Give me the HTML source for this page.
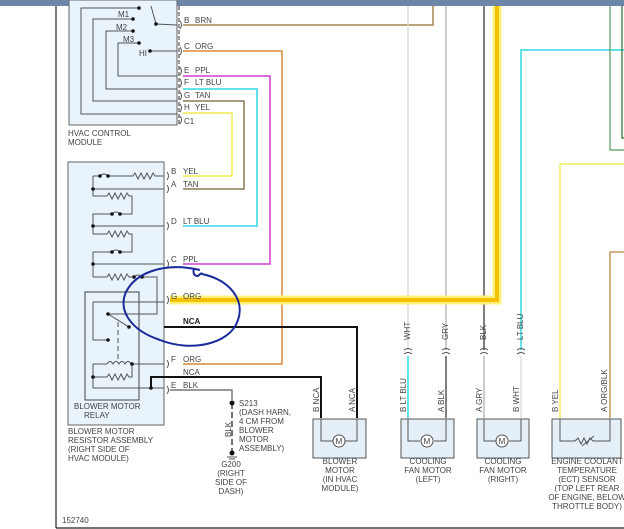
<!DOCTYPE html>
<html><head><meta charset="utf-8"><style>
html,body{margin:0;padding:0;background:#fff;}
svg{display:block;}
text{font-family:"Liberation Sans",sans-serif;font-size:8px;fill:#444;}
.w{fill:none;stroke-width:1.5;}
.k{fill:none;stroke:#555;stroke-width:1;}
</style></head><body>
<svg width="624" height="529" viewBox="0 0 624 529" xmlns="http://www.w3.org/2000/svg">
<rect x="0" y="0" width="624" height="6" fill="#6d86a8"/>
<line x1="56" y1="6" x2="56" y2="528" stroke="#222" stroke-width="1.2"/>
<line x1="56" y1="528" x2="624" y2="528" stroke="#222" stroke-width="1.2"/>

<!-- HVAC control module -->
<rect x="69" y="0" width="108" height="125" fill="#e9f3fb" stroke="#666"/>
<line x1="179" y1="6" x2="179" y2="125" stroke="#333" stroke-dasharray="4,2"/>
<g class="k">
<polyline points="138,8 81,8 81,114 177,114"/>
<polyline points="133,19 93,19 93,101 177,101"/>
<polyline points="133,31 106,31 106,89 177,89"/>
<polyline points="139,43 118,43 118,76 177,76"/>
<polyline points="150,51 177,51"/>
<polyline points="151,6 156,24 177,25"/>
</g>
<g fill="#111"><circle cx="139" cy="8" r="1.8"/><circle cx="133" cy="19" r="1.8"/><circle cx="133" cy="31" r="1.8"/><circle cx="139" cy="43" r="1.8"/><circle cx="150" cy="51" r="1.8"/><circle cx="156" cy="24" r="1.8"/></g>
<text x="118" y="17">M1</text><text x="116" y="30">M2</text><text x="123" y="42">M3</text><text x="139" y="56">HI</text>
<text x="68" y="136">HVAC CONTROL</text><text x="68" y="145">MODULE</text>

<g fill="none" stroke="#555" stroke-width="1">
<path d="M180,21 q3,4 0,8 M180,47 q3,4 0,8 M180,67 q3,4 0,8 M180,79 q3,4 0,8 M180,92 q3,4 0,8 M180,104 q3,4 0,8 M180,116 q3,4 0,8"/>
</g>
<text x="184" y="23">B</text><text x="195" y="23">BRN</text>
<text x="184" y="49">C</text><text x="195" y="49">ORG</text>
<text x="184" y="73">E</text><text x="195" y="73">PPL</text>
<text x="184" y="85">F</text><text x="195" y="85">LT BLU</text>
<text x="184" y="98">G</text><text x="195" y="98">TAN</text>
<text x="184" y="110">H</text><text x="195" y="110">YEL</text>
<text x="184" y="124">C1</text>

<!-- Wires from HVAC -->
<polyline class="w" stroke="#a48550" points="183,25 433,25 433,6"/>
<polyline class="w" stroke="#d98b3a" points="183,51 282,51 282,364 183,364"/>
<polyline class="w" stroke="#d040c8" points="183,76 270,76 270,264 183,264"/>
<polyline class="w" stroke="#30d8e0" points="183,89 257,89 257,226 183,226"/>
<polyline class="w" stroke="#8a7a58" points="183,101 244,101 244,189 183,189"/>
<polyline class="w" stroke="#f0ec50" points="183,113 232,113 232,176 183,176"/>

<!-- right side wires -->
<line x1="408" y1="6" x2="408" y2="350" stroke="#ddd" stroke-width="1.5"/>
<line x1="446" y1="6" x2="446" y2="350" stroke="#bbb" stroke-width="1.5"/>
<line x1="484" y1="6" x2="484" y2="350" stroke="#555" stroke-width="1.5"/>
<polyline class="w" stroke="#30d8e0" points="624,50 521,50 521,350"/>
<polyline fill="none" stroke="#5a9a5a" stroke-width="1.2" points="610,6 610,150 624,150"/>
<polyline fill="none" stroke="#2a6a2a" stroke-width="1.2" points="622,6 622,138 624,138"/>
<polyline class="w" stroke="#f2ee60" points="624,164 560,164 560,418"/>
<polyline class="w" stroke="#c89560" points="624,252 610,252 610,418"/>

<!-- highlighted ORG -->
<polyline fill="none" stroke="#fff27a" stroke-width="9" points="170,300 497,300 497,6"/>
<polyline fill="none" stroke="#f5c000" stroke-width="4" points="170,300 497,300 497,6"/>

<!-- resistor assembly -->
<rect x="68" y="162" width="96" height="263" fill="#e9f3fb" stroke="#666"/>
<rect x="85" y="292" width="54" height="108" fill="none" stroke="#444"/>
<g class="k">
<polyline points="164,176 160,176"/>
<path d="M93,176 L100,176 M100,176 q4,-4 8,0 L115,176 L133,176 l2,-3 3,6 3,-6 3,6 3,-6 3,6 3,-6 2,3 L164,176"/>
<polyline points="93,176 93,196 107,196"/>
<path d="M107,196 l2,-3 3,6 3,-6 3,6 3,-6 3,6 3,-6 2,3 L132,196 132,214 120,214 q-4,-4 -8,0 L93,214 93,234"/>
<line x1="93" y1="189" x2="164" y2="189"/>
<line x1="93" y1="226" x2="164" y2="226"/>
<path d="M93,234 L107,234 l2,-3 3,6 3,-6 3,6 3,-6 3,6 3,-6 2,3 L132,234 132,252 120,252 q-4,-4 -8,0 L93,252 93,277"/>
<line x1="93" y1="264" x2="164" y2="264"/>
<path d="M93,277 L107,277 l2,-3 3,6 3,-6 3,6 3,-6 3,6 3,-6 2,3 L134,277 q4,-4 8,0 L157,277 157,314 108,314"/>
<polyline points="93,302 164,302"/>
<polyline points="93,302 93,340 108,340"/>
<line x1="108" y1="314" x2="129" y2="327"/>
<line x1="118" y1="322" x2="118" y2="362" stroke-dasharray="5,3"/>
<path d="M107,364 q3,-5 6,0 q3,-5 6,0 q3,-5 6,0 q3,-5 6,0 L164,364"/>
<path d="M93,364 L107,364 M93,364 L93,388 L164,388 M93,377 L107,377 l2,-3 3,6 3,-6 3,6 3,-6 3,6 3,-6 2,3 L132,377 132,364"/>
</g>
<g fill="#111">
<circle cx="100" cy="176" r="1.8"/><circle cx="108" cy="176" r="1.8"/><circle cx="93" cy="189" r="1.8"/>
<circle cx="112" cy="214" r="1.8"/><circle cx="120" cy="214" r="1.8"/><circle cx="93" cy="226" r="1.8"/>
<circle cx="112" cy="252" r="1.8"/><circle cx="120" cy="252" r="1.8"/><circle cx="93" cy="264" r="1.8"/>
<circle cx="134" cy="277" r="1.8"/><circle cx="142" cy="277" r="1.8"/>
<circle cx="108" cy="314" r="1.8"/><circle cx="129" cy="327" r="1.8"/><circle cx="108" cy="340" r="1.8"/>
<circle cx="132" cy="364" r="1.8"/><circle cx="93" cy="377" r="1.8"/><circle cx="151" cy="388" r="1.8"/>
</g>
<g fill="none" stroke="#555"><path d="M167,172 q3,4 0,8 M167,185 q3,4 0,8 M167,222 q3,4 0,8 M167,260 q3,4 0,8 M167,296 q3,4 0,8 M167,360 q3,4 0,8 M167,386 q3,4 0,8"/></g>
<text x="171" y="174">B</text><text x="183" y="174">YEL</text>
<text x="171" y="187">A</text><text x="183" y="187">TAN</text>
<text x="171" y="224">D</text><text x="183" y="224">LT BLU</text>
<text x="171" y="262">C</text><text x="183" y="262">PPL</text>
<text x="171" y="299">G</text><text x="183" y="299">ORG</text>
<text x="183" y="324" style="fill:#222;font-weight:bold">NCA</text>
<text x="171" y="362">F</text><text x="183" y="362">ORG</text>
<text x="183" y="375">NCA</text>
<text x="171" y="388">E</text><text x="183" y="388">BLK</text>
<text x="74" y="409">BLOWER MOTOR</text><text x="84" y="418">RELAY</text>
<text x="68" y="434">BLOWER MOTOR</text><text x="68" y="443">RESISTOR ASSEMBLY</text>
<text x="68" y="452">(RIGHT SIDE OF</text><text x="68" y="461">HVAC MODULE)</text>

<!-- NCA wires -->
<polyline fill="none" stroke="#111" stroke-width="2" points="164,327 357,327 357,418"/>
<polyline fill="none" stroke="#111" stroke-width="2" points="151,388 151,377 321,377 321,418"/>
<polyline fill="none" stroke="#777" stroke-width="1.5" points="170,390 232,390 232,400"/>
<line x1="232" y1="403" x2="232" y2="452" stroke="#444" stroke-width="1.5" stroke-dasharray="6,3"/>
<circle cx="232" cy="403" r="2.5" fill="#111"/><circle cx="232" cy="453" r="2.5" fill="#111"/>
<line x1="227" y1="457" x2="237" y2="457" stroke="#555"/><line x1="229" y1="459" x2="235" y2="459" stroke="#555"/>
<text transform="translate(231,437) rotate(-90)">BLK</text>
<text x="239" y="406">S213</text><text x="239" y="415">(DASH HARN,</text><text x="239" y="424">4 CM FROM</text><text x="239" y="433">BLOWER</text><text x="239" y="442">MOTOR</text><text x="239" y="451">ASSEMBLY)</text>
<text x="231" y="467" text-anchor="middle">G200</text><text x="231" y="476" text-anchor="middle">(RIGHT</text><text x="231" y="485" text-anchor="middle">SIDE OF</text><text x="231" y="494" text-anchor="middle">DASH)</text>

<!-- fan wires below connectors -->
<line x1="408" y1="356" x2="408" y2="418" stroke="#30d8e0" stroke-width="1.5"/>
<line x1="446" y1="356" x2="446" y2="418" stroke="#555" stroke-width="1.5"/>
<line x1="484" y1="356" x2="484" y2="418" stroke="#bbb" stroke-width="1.5"/>
<line x1="521" y1="356" x2="521" y2="418" stroke="#ddd" stroke-width="1.5"/>
<g fill="none" stroke="#555"><path d="M404,350 q4,-3 8,0 M404,354 q4,-3 8,0 M442,350 q4,-3 8,0 M442,354 q4,-3 8,0 M480,350 q4,-3 8,0 M480,354 q4,-3 8,0 M517,350 q4,-3 8,0 M517,354 q4,-3 8,0"/></g>
<text transform="translate(410,340) rotate(-90)">WHT</text>
<text transform="translate(448,340) rotate(-90)">GRY</text>
<text transform="translate(486,340) rotate(-90)">BLK</text>
<text transform="translate(523,340) rotate(-90)">LT BLU</text>

<!-- pin labels -->
<text transform="translate(319,412) rotate(-90)">B  NCA</text>
<text transform="translate(355,412) rotate(-90)">A  NCA</text>
<text transform="translate(406,412) rotate(-90)">B  LT BLU</text>
<text transform="translate(444,412) rotate(-90)">A  BLK</text>
<text transform="translate(482,412) rotate(-90)">A  GRY</text>
<text transform="translate(519,412) rotate(-90)">B  WHT</text>
<text transform="translate(558,412) rotate(-90)">B  YEL</text>
<text transform="translate(607,412) rotate(-90)">A  ORG/BLK</text>

<!-- component boxes -->
<g stroke="#555" fill="#e5eff8">
<rect x="313" y="419" width="53" height="39"/>
<rect x="401" y="419" width="53" height="39"/>
<rect x="477" y="419" width="52" height="39"/>
<rect x="552" y="419" width="69" height="39"/>
</g>
<g class="k">
<polyline points="321,419 321,441 333,441"/><polyline points="357,419 357,441 345,441"/>
<polyline points="408,419 408,441 420,441"/><polyline points="446,419 446,441 434,441"/>
<polyline points="484,419 484,441 496,441"/><polyline points="521,419 521,441 509,441"/>
<polyline points="560,419 560,441 575,441 578,438 581,444 584,438 587,444 590,438 593,441 610,441 610,419"/>
<line x1="582" y1="446" x2="594" y2="436"/>
<circle cx="339" cy="441" r="6" fill="#fff"/><circle cx="427" cy="441" r="6" fill="#fff"/><circle cx="502" cy="441" r="6" fill="#fff"/>
</g>
<text x="339" y="444" text-anchor="middle">M</text><text x="427" y="444" text-anchor="middle">M</text><text x="502" y="444" text-anchor="middle">M</text>
<g text-anchor="middle">
<text x="340" y="464">BLOWER</text><text x="340" y="473">MOTOR</text><text x="340" y="482">(IN HVAC</text><text x="340" y="491">MODULE)</text>
<text x="428" y="464">COOLING</text><text x="428" y="473">FAN MOTOR</text><text x="428" y="482">(LEFT)</text>
<text x="503" y="464">COOLING</text><text x="503" y="473">FAN MOTOR</text><text x="503" y="482">(RIGHT)</text>
<text x="587" y="464">ENGINE COOLANT</text><text x="587" y="473">TEMPERATURE</text><text x="587" y="482">(ECT) SENSOR</text><text x="587" y="491">(TOP LEFT REAR</text><text x="587" y="500">OF ENGINE, BELOW</text><text x="587" y="509">THROTTLE BODY)</text>
</g>
<text x="62" y="523">152740</text>

<!-- hand-drawn circle -->
<path d="M194,268 q-2,8 4,8 q4,-4 4,-2 C230,280 245,300 238,320 C230,345 190,352 160,340 C130,330 118,310 126,292 C136,272 165,262 200,270" fill="none" stroke="#1a2a9a" stroke-width="2"/>
</svg>
</body></html>
